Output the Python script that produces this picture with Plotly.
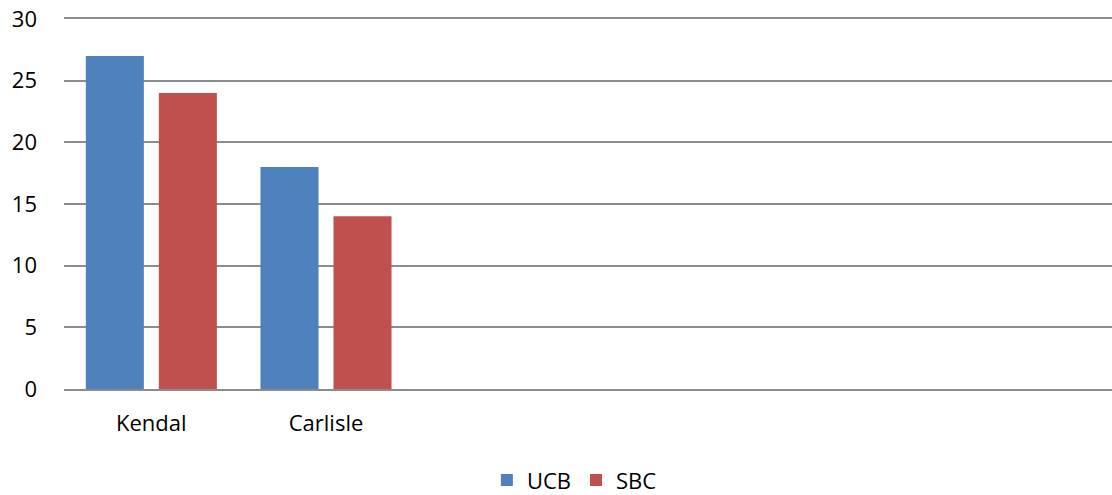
import plotly.graph_objects as go

categories = ["Kendal", "Carlisle"]
ucb = [27, 18]
sbc = [24, 14]
y_ticks = [0, 5, 10, 15, 20, 25, 30]

font_family = "'Open Sans', Lato, sans-serif"
grid_color = "#8c8c8c"

fig = go.Figure()
fig.add_trace(go.Bar(name="UCB", x=categories, y=ucb, marker=dict(color="#4F81BD", line=dict(width=0))))
fig.add_trace(go.Bar(name="SBC", x=categories, y=sbc, marker=dict(color="#C0504D", line=dict(width=0))))

fig.update_layout(
    width=1112, height=495,
    margin=dict(l=64, r=0, t=19, b=106, autoexpand=False),
    paper_bgcolor="white", plot_bgcolor="white",
    barmode="group", bargap=0.164, bargroupgap=0.205,
    font=dict(family=font_family, size=22, color="black"),
    showlegend=True,
    legend=dict(orientation="h", x=0.487, xanchor="center", yref="container", y=0.03,
                yanchor="middle", font=dict(size=22), itemsizing="constant",
                itemwidth=30, traceorder="normal"),
    xaxis=dict(type="category", range=[-0.5, 5.5], showgrid=False, automargin=False,
               showline=True, mirror=True, linecolor=grid_color, linewidth=1.5,
               ticks="", ticklabelstandoff=14, zeroline=False),
    yaxis=dict(range=[0, 30], tickvals=y_ticks, showgrid=True, gridcolor=grid_color,
               gridwidth=1.5, zeroline=False, showline=False, ticks="", automargin=False,
               ticklabelstandoff=26),
)

fig.write_html("out.html")
